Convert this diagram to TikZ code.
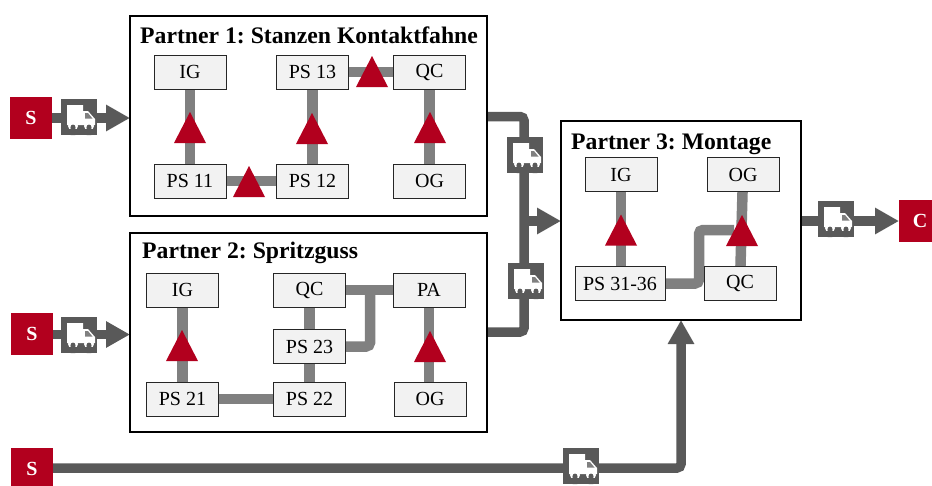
\documentclass[tikz,border=0pt]{standalone}
\usepackage{fontspec}
\setmainfont{Liberation Serif}
\usetikzlibrary{arrows.meta,shapes.geometric,backgrounds}
\frenchspacing
\definecolor{dred}{HTML}{B2001E}
\definecolor{dgrey}{HTML}{595959}
\definecolor{mgrey}{HTML}{808080}
\definecolor{lgrey}{HTML}{F2F2F2}
\tikzset{
 panel/.style={draw=black,line width=1.6pt,fill=none,inner sep=0,outer sep=0,anchor=north west},
 title/.style={font=\bfseries\fontsize{23.7}{24}\selectfont,anchor=base west,inner sep=0,text=black},
 proc/.style={draw=black!85,line width=1pt,fill=lgrey,inner sep=0,outer sep=0,minimum width=72pt,minimum height=34pt,font=\fontsize{20}{20}\selectfont,text=black},
 tri/.style={isosceles triangle,isosceles triangle stretches=true,shape border rotate=90,fill=dred,inner sep=0,outer sep=0,minimum width=32pt,minimum height=31pt,anchor=south},
 ends/.style={fill=dred,text=white,font=\bfseries\fontsize{20}{20}\selectfont,inner sep=0,outer sep=0,minimum width=42pt,minimum height=42pt},
 thin link/.style={draw=mgrey,line width=10.5pt,rounded corners=4pt},
 flow/.style={draw=dgrey,line width=9.5pt,rounded corners=4pt},
 flowhead/.style={flow,-{Triangle[width=25pt,length=24pt]}},
 truck/.style={fill=dgrey,inner sep=0,outer sep=0,minimum size=36pt,path picture={
  \begin{scope}[shift={(path picture bounding box.center)}]
   \fill[white] (-12,-12) -- (4,-12) -- (4,-6) -- (9,-6) -- (16,2) -- (16,8) -- (-12,8) -- cycle;
   \fill[mgrey] (6,-4) -- (9,-4) -- (13.5,1.5) -- (6,1.5) -- cycle;
   \fill[white] (-6,9) circle (5) (10,9) circle (5);
   \fill[dgrey] (-6,10) circle (2.4) (10,10) circle (2.4);
   \fill[dgrey] (-8.4,10) rectangle (-3.6,18) (7.6,10) rectangle (12.4,18);
   \fill[dgrey] (-14,12) rectangle (17,18);
  \end{scope}}},
}
\begin{document}
\begin{tikzpicture}[x=1pt,y=-1pt]
\useasboundingbox (0,0) rectangle (932,485);
% panels
\node[panel,minimum width=357pt,minimum height=200pt] (p1) at (130,16) {};
\node[panel,minimum width=357pt,minimum height=199pt] (p2) at (130,233) {};
\node[panel,minimum width=240pt,minimum height=199pt] (p3) at (561,121) {};
\node[title] (t1) at (140,43) {Partner 1: Stanzen Kontaktfahne};
\node[title] (t2) at (142,258) {Partner 2: Spritzguss};
\node[title] (t3) at (571,149) {Partner 3: Montage};
% partner 1
\node[proc] (a1) at (190,72) {IG};
\node[proc] (a2) at (312.5,72) {PS 13};
\node[proc] (a3) at (429.5,72) {QC};
\node[proc] (a4) at (190,181) {PS 11};
\node[proc] (a5) at (312.5,181) {PS 12};
\node[proc] (a6) at (429.5,181) {OG};
% partner 2
\node[proc] (b1) at (182.5,290) {IG};
\node[proc] (b2) at (309.5,290) {QC};
\node[proc] (b3) at (429,290) {PA};
\node[proc] (b4) at (309.5,346.5) {PS 23};
\node[proc] (b5) at (182.5,399) {PS 21};
\node[proc] (b6) at (309.5,399) {PS 22};
\node[proc] (b7) at (430,399) {OG};
% partner 3
\node[proc] (c1) at (621,174.5) {IG};
\node[proc] (c2) at (743,174.5) {OG};
\node[proc,minimum width=90pt] (c3) at (620,283.5) {PS 31-36};
\node[proc] (c4) at (740,283.5) {QC};
% triangles
\node[tri] (ta1) at (190,143) {};
\node[tri] (ta2) at (312,144) {};
\node[tri] (ta3) at (430,143) {};
\node[tri] (ta4) at (372,87) {};
\node[tri] (ta5) at (249,197) {};
\node[tri] (tb1) at (182,361) {};
\node[tri] (tb2) at (430,362) {};
\node[tri] (tc1) at (621,245.5) {};
\node[tri] (tc2) at (742,246) {};
% ends and trucks
\node[ends] (s1) at (31,118) {S};
\node[ends] (s2) at (32,334) {S};
\node[ends] (s3) at (32,469) {S};
\node[ends] (e1) at (920,221) {C};
\node[truck] (k1) at (79,117) {};
\node[truck] (k2) at (79,335) {};
\node[truck] (k3) at (581,466) {};
\node[truck] (k4) at (525,155) {};
\node[truck] (k5) at (526,281) {};
\node[truck] (k6) at (836,219) {};
\coordinate (m1) at (524,116.5);
\coordinate (m2) at (524,332);
\coordinate (m3) at (524,221);
\coordinate (u1) at (681,468);
\coordinate (g1) at (699,283.5);
\coordinate (g2) at (699,230);
\coordinate (g3) at (734,230);
\coordinate (g4) at (370,346.5);
\coordinate (g5) at (370,290);
\begin{scope}[on background layer]
 \draw[thin link] (a1) -- (a4);
 \draw[thin link] (a2) -- (a5);
 \draw[thin link] (a3) -- (a6);
 \draw[thin link] (a2) -- (a3);
 \draw[thin link] (a4) -- (a5);
 \draw[thin link] (b1) -- (b5);
 \draw[thin link] (b2) -- (b3);
 \draw[thin link] (b2) -- (b6);
 \draw[thin link] (b5) -- (b6);
 \draw[thin link] (b4.east) -- (g4) -- (g5);
 \draw[thin link] (b3.south) -- (b3.south |- b7.north);
 \draw[thin link] (c1.south) -- (c1.south |- c3.north);
 \draw[thin link] (c2) -- (c4);
 \draw[thin link] (c3.east) -- (g1) -- (g2) -- (g3);
 \draw[flowhead] (s1.center) -- (s1.center -| p1.west);
 \draw[flowhead] ([yshift=-0.5pt]s2.center) -- ([yshift=-0.5pt]s2.center -| p2.west);
 \draw[flow] (p1.east |- m1) -- (m1) -- (m2) -- (p2.east |- m2);
 \draw[flowhead] (m3) -- (p3.west |- m3);
 \draw[flowhead] (p3.east |- e1) -- (e1.west);
 \draw[flowhead,rounded corners=4pt] (s3.center |- u1) -- (u1) -- (u1 |- p3.south);
\end{scope}
\end{tikzpicture}
\end{document}
